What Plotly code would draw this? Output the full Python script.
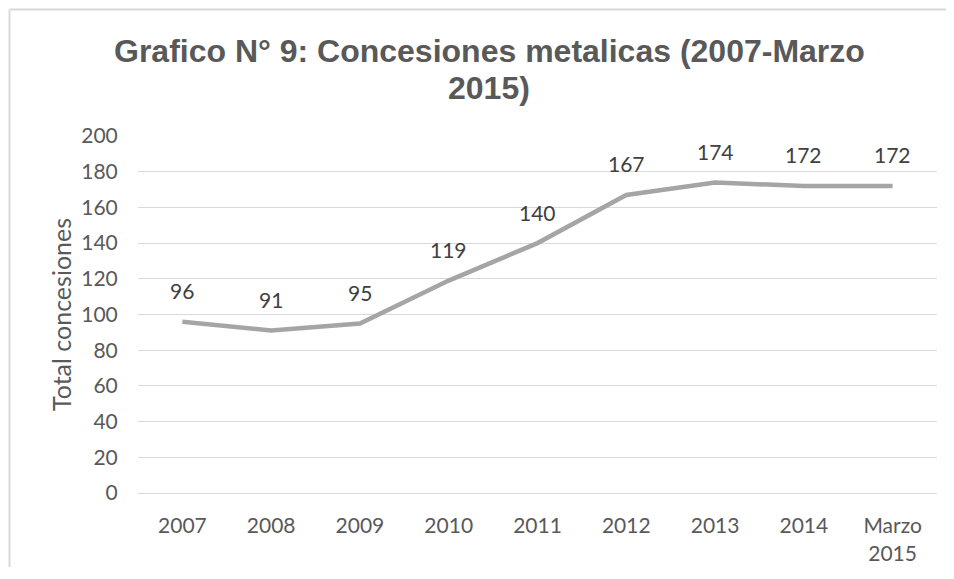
import plotly.graph_objects as go

categories = ["2007", "2008", "2009", "2010", "2011", "2012", "2013", "2014", "Marzo<br>2015"]
values = [96, 91, 95, 119, 140, 167, 174, 172, 172]
y_ticks = [0, 20, 40, 60, 80, 100, 120, 140, 160, 180, 200]

# page has an 8px body margin; figure coordinates are offset by it
OFF = 8
W, H = 954 - 2 * OFF, 579 - 2 * OFF - 4
PLOT_L, PLOT_R, PLOT_T, PLOT_B = 138, 937, 136, 493   # page pixels
L = PLOT_L - OFF
T = PLOT_T - OFF
R = W - (PLOT_R - OFF)
B = H - (PLOT_B - OFF)
pw = W - L - R
ph = H - T - B

def px_to_paper_x(px):
    return (px - L) / pw

def px_to_paper_y(py):
    return (H - B - py) / ph

FONT = "Lato, Open Sans, sans-serif"
tick_font = dict(family=FONT, size=21, color="#595959")

fig = go.Figure()
fig.add_trace(go.Scatter(
    x=list(range(len(categories))), y=values, mode="lines",
    line=dict(color="#A5A5A5", width=4.5, shape="linear"),
    hoverinfo="skip", showlegend=False,
))

annotations = []
for i, v in enumerate(values):
    annotations.append(dict(
        x=i, y=v, xref="x", yref="y", text=str(v), showarrow=False,
        yshift=31, font=dict(family=FONT, size=21, color="#404040"),
    ))

title_font = dict(family="Liberation Sans, Arial, sans-serif", size=32, color="#595959")
annotations.append(dict(
    x=px_to_paper_x(481), y=px_to_paper_y(43), xref="paper", yref="paper",
    text="<b>Grafico N° 9: Concesiones metalicas (2007-Marzo</b>", showarrow=False,
    xanchor="center", yanchor="middle", font=title_font,
))
annotations.append(dict(
    x=px_to_paper_x(481), y=px_to_paper_y(80), xref="paper", yref="paper",
    text="<b>2015)</b>", showarrow=False,
    xanchor="center", yanchor="middle", font=title_font,
))

border = dict(color="#D9D9D9", width=2)
fig.update_layout(
    width=W, height=H,
    margin=dict(l=L, r=R, t=T, b=B, pad=0, autoexpand=False),
    paper_bgcolor="white", plot_bgcolor="white",
    annotations=annotations,
    shapes=[
        dict(type="line", xref="paper", yref="paper",
             x0=px_to_paper_x(1.5), x1=px_to_paper_x(W + 20),
             y0=px_to_paper_y(1.5), y1=px_to_paper_y(1.5), line=border, layer="below"),
        dict(type="line", xref="paper", yref="paper",
             x0=px_to_paper_x(1.5), x1=px_to_paper_x(1.5),
             y0=px_to_paper_y(1.5), y1=px_to_paper_y(H + 20), line=border, layer="below"),
    ],
    xaxis=dict(
        tickmode="array", tickvals=list(range(len(categories))), ticktext=categories,
        range=[-0.5, len(categories) - 0.5],
        showgrid=False, zeroline=False, showline=False, automargin=False,
        ticks="outside", ticklen=14, tickcolor="rgba(0,0,0,0)",
        tickfont=tick_font,
    ),
    yaxis=dict(
        range=[0, 200], tickvals=y_ticks, automargin=False,
        showgrid=True, gridcolor="#D9D9D9", gridwidth=1,
        zeroline=True, zerolinecolor="#D9D9D9", zerolinewidth=1,
        showline=False,
        ticks="outside", ticklen=15, tickcolor="rgba(0,0,0,0)",
        tickfont=tick_font,
        title=dict(text="Total concesiones",
                   font=dict(family=FONT, size=25, color="#595959"),
                   standoff=2),
    ),
)

fig.write_html("out.html")
